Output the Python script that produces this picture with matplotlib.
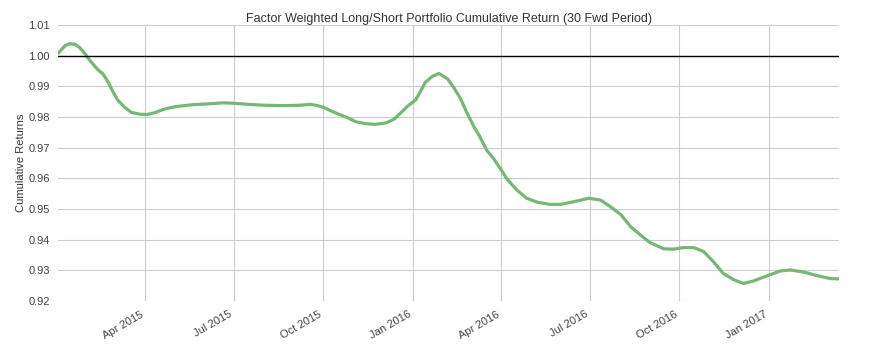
import matplotlib
matplotlib.use("Agg")
import matplotlib.pyplot as plt
import matplotlib.dates as mdates
import pandas as pd

plt.rcParams['font.family'] = ['Liberation Sans', 'DejaVu Sans']

dates = [
    "2015-01-02", "2015-01-09", "2015-01-14", "2015-01-19", "2015-01-24", "2015-01-29",
    "2015-02-03", "2015-02-12", "2015-02-17", "2015-02-22", "2015-02-27", "2015-03-04",
    "2015-03-11", "2015-03-18", "2015-03-27", "2015-04-03", "2015-04-11", "2015-04-21",
    "2015-05-03", "2015-05-20", "2015-06-06", "2015-06-20", "2015-06-30", "2015-07-17",
    "2015-08-03", "2015-08-20", "2015-09-06", "2015-09-18", "2015-09-24", "2015-10-01",
    "2015-10-11", "2015-10-25", "2015-11-04", "2015-11-14", "2015-11-24", "2015-12-05",
    "2015-12-13", "2015-12-20", "2015-12-27", "2016-01-04", "2016-01-09", "2016-01-14",
    "2016-01-21", "2016-01-28", "2016-02-06", "2016-02-12", "2016-02-19", "2016-02-26",
    "2016-03-04", "2016-03-10", "2016-03-17", "2016-03-24", "2016-03-31", "2016-04-07",
    "2016-04-17", "2016-04-27", "2016-05-08", "2016-05-21", "2016-06-01", "2016-06-15",
    "2016-06-30", "2016-07-12", "2016-07-22", "2016-08-02", "2016-08-12", "2016-08-22",
    "2016-09-01", "2016-09-15", "2016-09-25", "2016-10-05", "2016-10-16", "2016-10-26",
    "2016-11-05", "2016-11-15", "2016-11-26", "2016-12-06", "2016-12-16", "2016-12-30",
    "2017-01-13", "2017-01-23", "2017-02-06", "2017-02-20", "2017-03-05", "2017-03-14",
]
cum_returns = [
    1.0008, 1.0033, 1.0039, 1.0037, 1.0026, 1.0008,
    0.9986, 0.9953, 0.9940, 0.9915, 0.9883, 0.9855,
    0.9832, 0.9815, 0.9809, 0.9808, 0.9814, 0.9826,
    0.9834, 0.9840, 0.9843, 0.9846, 0.9845, 0.9841,
    0.9838, 0.9837, 0.9838, 0.9841, 0.9838, 0.9832,
    0.9817, 0.9799, 0.9784, 0.9778, 0.9776, 0.9781,
    0.9793, 0.9814, 0.9836, 0.9855, 0.9883, 0.9913,
    0.9932, 0.9942, 0.9924, 0.9897, 0.9861, 0.9812,
    0.9768, 0.9736, 0.9692, 0.9665, 0.9632, 0.9597,
    0.9562, 0.9535, 0.9522, 0.9515, 0.9515, 0.9524,
    0.9535, 0.9529, 0.9508, 0.9481, 0.9442, 0.9415,
    0.9390, 0.9370, 0.9369, 0.9374, 0.9374, 0.9361,
    0.9328, 0.9290, 0.9269, 0.9257, 0.9265, 0.9282,
    0.9298, 0.9301, 0.9294, 0.9282, 0.9273, 0.9272,
]
yticks = [0.92, 0.93, 0.94, 0.95, 0.96, 0.97, 0.98, 0.99, 1.00, 1.01]
title = "Factor Weighted Long/Short Portfolio Cumulative Return (30 Fwd Period)"
ylabel = "Cumulative Returns"

x = pd.to_datetime(dates)

fig = plt.figure(figsize=(8.77, 3.57), dpi=100)
ax = fig.add_axes([0.0665, 0.157, 0.8902, 0.773])
ax.plot(x, cum_returns, color="#74b874", linewidth=2.3, solid_capstyle="round")
ax.axhline(1.0, color="black", linewidth=1.0)

ax.set_xlim(x[0], x[-1])
ax.set_ylim(0.92, 1.01)
ax.set_yticks(yticks)
ax.set_yticklabels([f"{v:.2f}" for v in yticks])
ax.xaxis.set_major_locator(mdates.MonthLocator(bymonth=[1, 4, 7, 10]))
ax.xaxis.set_major_formatter(mdates.DateFormatter("%b %Y"))
for lbl in ax.get_xticklabels():
    lbl.set_rotation(30)
    lbl.set_ha("right")

ax.grid(True, color="#cccccc", linewidth=0.8)
ax.set_axisbelow(True)
for s in ax.spines.values():
    s.set_visible(False)
ax.tick_params(axis="both", length=0, labelsize=8, colors="#444444", pad=6)
ax.set_title(title, fontsize=9, color="#333333", pad=2.5)
ax.set_ylabel(ylabel, fontsize=8, color="#333333", labelpad=1.5)

fig.savefig("out.png", dpi=100)
